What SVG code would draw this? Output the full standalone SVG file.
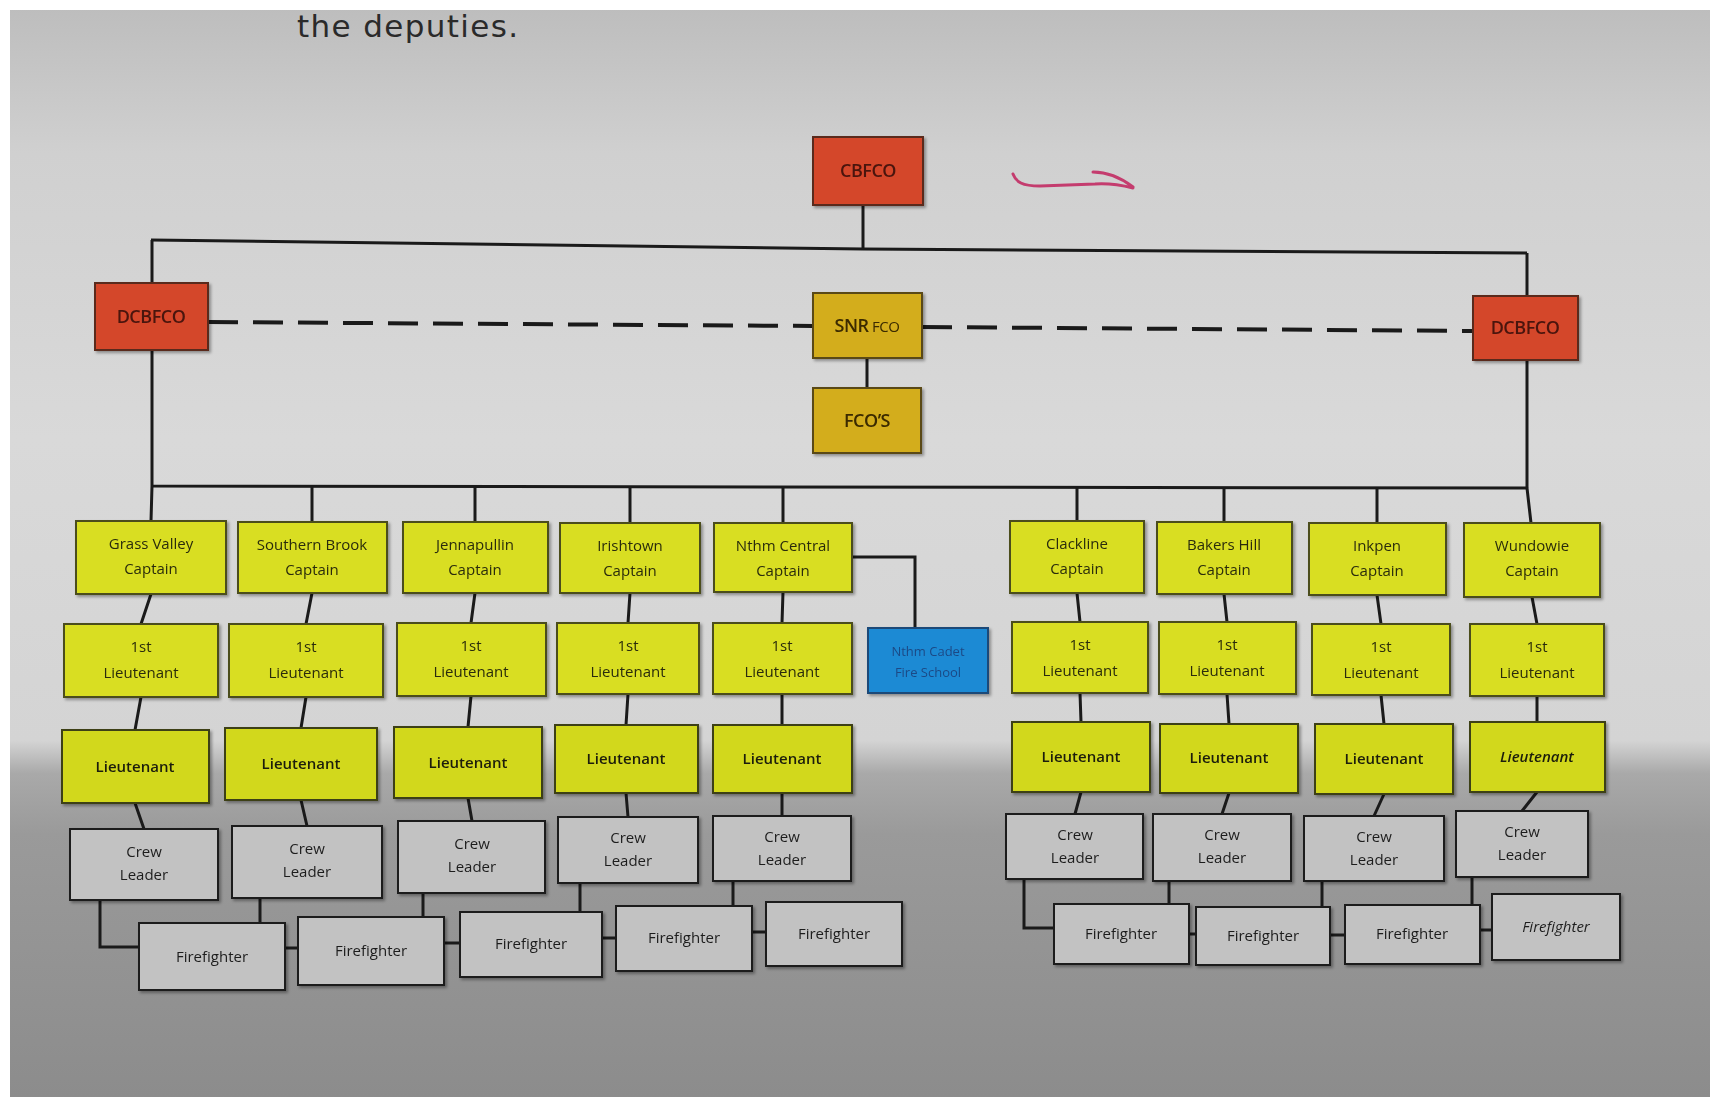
<svg xmlns="http://www.w3.org/2000/svg" width="1710" height="1097" viewBox="0 0 1710 1097">
<defs>
<linearGradient id="bg" x1="0" y1="0" x2="0" y2="1">
<stop offset="0" stop-color="#bcbcbc"/>
<stop offset="0.14" stop-color="#d0d0d0"/>
<stop offset="0.4" stop-color="#d9d9d9"/>
<stop offset="0.675" stop-color="#d4d4d4"/>
<stop offset="0.705" stop-color="#a9a9a9"/>
<stop offset="0.76" stop-color="#9a9a9a"/>
<stop offset="1" stop-color="#8c8c8c"/>
</linearGradient>
<filter id="sh" x="-10%" y="-10%" width="125%" height="130%">
<feDropShadow dx="2" dy="2" stdDeviation="1.5" flood-color="#000" flood-opacity="0.35"/>
</filter>
<style>
.y{fill:#d9de22;stroke:#4b4d1a;stroke-width:2}
.y2{fill:#d2d81e;stroke:#3e4014;stroke-width:2}
.r{fill:#d4462c;stroke:#5a2a1e;stroke-width:2}
.g{fill:#d3ad1c;stroke:#5a4a12;stroke-width:2}
.b{fill:#1f8ad4;stroke:#1b4a78;stroke-width:2}
.w{fill:#c2c2c2;stroke:#1e1e1e;stroke-width:2}
.node{filter:url(#sh)}
text{font-family:"Open Sans","Liberation Sans",sans-serif;text-anchor:middle}
.t{font-size:15px;fill:#2a2c0c;font-weight:500}
.tl{font-size:15px;fill:#1c1e08;font-weight:600}
.tw{font-size:15px;fill:#1e1e1e;font-weight:500}
.tr{font-size:18px;fill:#4a140c;letter-spacing:-0.5px;font-weight:600}
.tg{font-size:18px;fill:#3a2a00;letter-spacing:-0.5px;font-weight:600}
.tb{font-size:13px;fill:#1a4a86}
.conn{stroke:#1a1a1a;stroke-width:3;fill:none}
.dash{stroke:#1a1a1a;stroke-width:4;fill:none;stroke-dasharray:30 15}
</style>
</defs>
<rect x="0" y="0" width="1710" height="1097" fill="url(#bg)"/>
<text x="297" y="37" style="font-family:'DejaVu Sans',sans-serif;font-size:31px;fill:#2a2a2a;text-anchor:start" textLength="221">the deputies.</text>
<rect x="0" y="0" width="1710" height="10" fill="#ffffff"/>
<rect x="0" y="0" width="10" height="1097" fill="#ffffff"/>
<path d="M1013,174 C1016,182 1022,186 1040,186 L1095,184 C1110,183 1125,186 1133,188 M1093,172 C1105,172 1120,177 1133,187" fill="none" stroke="#c43c6e" stroke-width="3" stroke-linecap="round"/>

<g id="connectors">
<polyline class="conn" points="151,240 863,249 1527,253"/>
<path class="conn" d="M863,205 V249 M152,240 V283 M152,350 V486 M1527,253 V296 M1527,360 V488 M152,486 L1527,488"/>
<path class="conn" d="M152,486 L151,521 M312,486 V522 M475,486 V522 M630,486 V523 M783,487 V523 M1077,487 V521 M1224,487 V522 M1377,488 V523 M1527,488 L1531,523"/>
<path class="conn" d="M867,358 V388 M852,557 H915 V628"/>
<path class="conn" d="M151,594 L141,624 M312,593 L306,624 M475,593 L471,623 M630,593 L628,623 M783,592 L782,623 M1077,593 L1080,622 M1224,594 L1227,622 M1377,595 L1381,624 M1532,597 L1537,624"/>
<path class="conn" d="M141,697 L135,730 M306,697 L301,728 M471,696 L468,727 M628,694 L626,725 M782,694 L782,725 M1080,693 L1081,722 M1227,694 L1229,724 M1381,695 L1384,724 M1537,696 L1537,722"/>
<path class="conn" d="M135,803 L144,829 M301,800 L307,826 M468,798 L472,821 M626,793 L628,817 M782,793 L782,816 M1081,792 L1075,814 M1229,793 L1222,814 M1384,794 L1374,816 M1537,792 L1522,811"/>
<path class="conn" d="M100,900 V947 H139 M260,898 V923 M423,893 V917 M580,883 V912 M733,881 V906 M285,948 H298 M444,943 H460 M602,938 H616 M752,932 H766"/>
<path class="conn" d="M1024,879 V928 H1054 M1169,881 V904 M1322,881 V907 M1472,877 V905 M1189,934 H1196 M1330,935 H1345 M1480,930 H1492"/>
<path class="dash" d="M208,322 L813,326 M922,327 L1473,331"/>
</g>

<g id="cbfco" class="node"><rect class="r" x="813" y="137" width="110" height="68"/><text class="tr" x="868" y="177">CBFCO</text></g>
<g id="dcbfco-left" class="node"><rect class="r" x="95" y="283" width="113" height="67"/><text class="tr" x="151" y="323">DCBFCO</text></g>
<g id="dcbfco-right" class="node"><rect class="r" x="1473" y="296" width="105" height="64"/><text class="tr" x="1525" y="334">DCBFCO</text></g>
<g id="snr-fco" class="node"><rect class="g" x="813" y="293" width="109" height="65"/><text class="tg" x="867" y="332">SNR<tspan style="font-size:15px;font-weight:400"> FCO</tspan></text></g>
<g id="fcos" class="node"><rect class="g" x="813" y="388" width="108" height="65"/><text class="tg" x="867" y="427">FCO’S</text></g>
<g id="cadet-school" class="node"><rect class="b" x="868" y="628" width="120" height="65"/><text class="tb" x="928" y="656">Nthm Cadet</text><text class="tb" x="928" y="677">Fire School</text></g>

<g id="cap-grass-valley" class="node"><rect class="y" x="76" y="521" width="150" height="73"/><text class="t" x="151" y="549">Grass Valley</text><text class="t" x="151" y="574">Captain</text></g>
<g id="cap-southern-brook" class="node"><rect class="y" x="238" y="522" width="149" height="71"/><text class="t" x="312" y="550">Southern Brook</text><text class="t" x="312" y="575">Captain</text></g>
<g id="cap-jennapullin" class="node"><rect class="y" x="403" y="522" width="145" height="71"/><text class="t" x="475" y="550">Jennapullin</text><text class="t" x="475" y="575">Captain</text></g>
<g id="cap-irishtown" class="node"><rect class="y" x="560" y="523" width="140" height="70"/><text class="t" x="630" y="551">Irishtown</text><text class="t" x="630" y="576">Captain</text></g>
<g id="cap-nthm-central" class="node"><rect class="y" x="714" y="523" width="138" height="69"/><text class="t" x="783" y="551">Nthm Central</text><text class="t" x="783" y="576">Captain</text></g>
<g id="cap-clackline" class="node"><rect class="y" x="1010" y="521" width="134" height="72"/><text class="t" x="1077" y="549">Clackline</text><text class="t" x="1077" y="574">Captain</text></g>
<g id="cap-bakers-hill" class="node"><rect class="y" x="1157" y="522" width="135" height="72"/><text class="t" x="1224" y="550">Bakers Hill</text><text class="t" x="1224" y="575">Captain</text></g>
<g id="cap-inkpen" class="node"><rect class="y" x="1309" y="523" width="137" height="72"/><text class="t" x="1377" y="551">Inkpen</text><text class="t" x="1377" y="576">Captain</text></g>
<g id="cap-wundowie" class="node"><rect class="y" x="1464" y="523" width="136" height="74"/><text class="t" x="1532" y="551">Wundowie</text><text class="t" x="1532" y="576">Captain</text></g>

<g id="first-lt-1" class="node"><rect class="y" x="64" y="624" width="154" height="73"/><text class="t" x="141" y="652">1st</text><text class="t" x="141" y="678">Lieutenant</text></g>
<g id="first-lt-2" class="node"><rect class="y" x="229" y="624" width="154" height="73"/><text class="t" x="306" y="652">1st</text><text class="t" x="306" y="678">Lieutenant</text></g>
<g id="first-lt-3" class="node"><rect class="y" x="397" y="623" width="149" height="73"/><text class="t" x="471" y="651">1st</text><text class="t" x="471" y="677">Lieutenant</text></g>
<g id="first-lt-4" class="node"><rect class="y" x="557" y="623" width="142" height="71"/><text class="t" x="628" y="651">1st</text><text class="t" x="628" y="677">Lieutenant</text></g>
<g id="first-lt-5" class="node"><rect class="y" x="713" y="623" width="139" height="71"/><text class="t" x="782" y="651">1st</text><text class="t" x="782" y="677">Lieutenant</text></g>
<g id="first-lt-6" class="node"><rect class="y" x="1012" y="622" width="136" height="71"/><text class="t" x="1080" y="650">1st</text><text class="t" x="1080" y="676">Lieutenant</text></g>
<g id="first-lt-7" class="node"><rect class="y" x="1159" y="622" width="137" height="72"/><text class="t" x="1227" y="650">1st</text><text class="t" x="1227" y="676">Lieutenant</text></g>
<g id="first-lt-8" class="node"><rect class="y" x="1312" y="624" width="138" height="71"/><text class="t" x="1381" y="652">1st</text><text class="t" x="1381" y="678">Lieutenant</text></g>
<g id="first-lt-9" class="node"><rect class="y" x="1470" y="624" width="134" height="72"/><text class="t" x="1537" y="652">1st</text><text class="t" x="1537" y="678">Lieutenant</text></g>

<g id="lt-1" class="node"><rect class="y2" x="62" y="730" width="147" height="73"/><text class="tl" x="135" y="772">Lieutenant</text></g>
<g id="lt-2" class="node"><rect class="y2" x="225" y="728" width="152" height="72"/><text class="tl" x="301" y="769">Lieutenant</text></g>
<g id="lt-3" class="node"><rect class="y2" x="394" y="727" width="148" height="71"/><text class="tl" x="468" y="768">Lieutenant</text></g>
<g id="lt-4" class="node"><rect class="y2" x="555" y="725" width="143" height="68"/><text class="tl" x="626" y="764">Lieutenant</text></g>
<g id="lt-5" class="node"><rect class="y2" x="713" y="725" width="139" height="68"/><text class="tl" x="782" y="764">Lieutenant</text></g>
<g id="lt-6" class="node"><rect class="y2" x="1012" y="722" width="138" height="70"/><text class="tl" x="1081" y="762">Lieutenant</text></g>
<g id="lt-7" class="node"><rect class="y2" x="1160" y="724" width="138" height="69"/><text class="tl" x="1229" y="763">Lieutenant</text></g>
<g id="lt-8" class="node"><rect class="y2" x="1315" y="724" width="138" height="70"/><text class="tl" x="1384" y="764">Lieutenant</text></g>
<g id="lt-9" class="node"><rect class="y2" x="1470" y="722" width="135" height="70"/><text class="tl" x="1537" y="762" font-style="italic">Lieutenant</text></g>

<g id="crew-1" class="node"><rect class="w" x="70" y="829" width="148" height="71"/><text class="tw" x="144" y="857">Crew</text><text class="tw" x="144" y="880">Leader</text></g>
<g id="crew-2" class="node"><rect class="w" x="232" y="826" width="150" height="72"/><text class="tw" x="307" y="854">Crew</text><text class="tw" x="307" y="877">Leader</text></g>
<g id="crew-3" class="node"><rect class="w" x="398" y="821" width="147" height="72"/><text class="tw" x="472" y="849">Crew</text><text class="tw" x="472" y="872">Leader</text></g>
<g id="crew-4" class="node"><rect class="w" x="558" y="817" width="140" height="66"/><text class="tw" x="628" y="843">Crew</text><text class="tw" x="628" y="866">Leader</text></g>
<g id="crew-5" class="node"><rect class="w" x="713" y="816" width="138" height="65"/><text class="tw" x="782" y="842">Crew</text><text class="tw" x="782" y="865">Leader</text></g>
<g id="crew-6" class="node"><rect class="w" x="1006" y="814" width="137" height="65"/><text class="tw" x="1075" y="840">Crew</text><text class="tw" x="1075" y="863">Leader</text></g>
<g id="crew-7" class="node"><rect class="w" x="1153" y="814" width="138" height="67"/><text class="tw" x="1222" y="840">Crew</text><text class="tw" x="1222" y="863">Leader</text></g>
<g id="crew-8" class="node"><rect class="w" x="1304" y="816" width="140" height="65"/><text class="tw" x="1374" y="842">Crew</text><text class="tw" x="1374" y="865">Leader</text></g>
<g id="crew-9" class="node"><rect class="w" x="1456" y="811" width="132" height="66"/><text class="tw" x="1522" y="837">Crew</text><text class="tw" x="1522" y="860">Leader</text></g>

<g id="ff-1" class="node"><rect class="w" x="139" y="923" width="146" height="67"/><text class="tw" x="212" y="962">Firefighter</text></g>
<g id="ff-2" class="node"><rect class="w" x="298" y="917" width="146" height="68"/><text class="tw" x="371" y="956">Firefighter</text></g>
<g id="ff-3" class="node"><rect class="w" x="460" y="912" width="142" height="65"/><text class="tw" x="531" y="949">Firefighter</text></g>
<g id="ff-4" class="node"><rect class="w" x="616" y="906" width="136" height="65"/><text class="tw" x="684" y="943">Firefighter</text></g>
<g id="ff-5" class="node"><rect class="w" x="766" y="902" width="136" height="64"/><text class="tw" x="834" y="939">Firefighter</text></g>
<g id="ff-6" class="node"><rect class="w" x="1054" y="904" width="135" height="60"/><text class="tw" x="1121" y="939">Firefighter</text></g>
<g id="ff-7" class="node"><rect class="w" x="1196" y="907" width="134" height="58"/><text class="tw" x="1263" y="941">Firefighter</text></g>
<g id="ff-8" class="node"><rect class="w" x="1345" y="905" width="135" height="59"/><text class="tw" x="1412" y="939">Firefighter</text></g>
<g id="ff-9" class="node"><rect class="w" x="1492" y="894" width="128" height="66"/><text class="tw" x="1556" y="932" font-style="italic">Firefighter</text></g>
</svg>
